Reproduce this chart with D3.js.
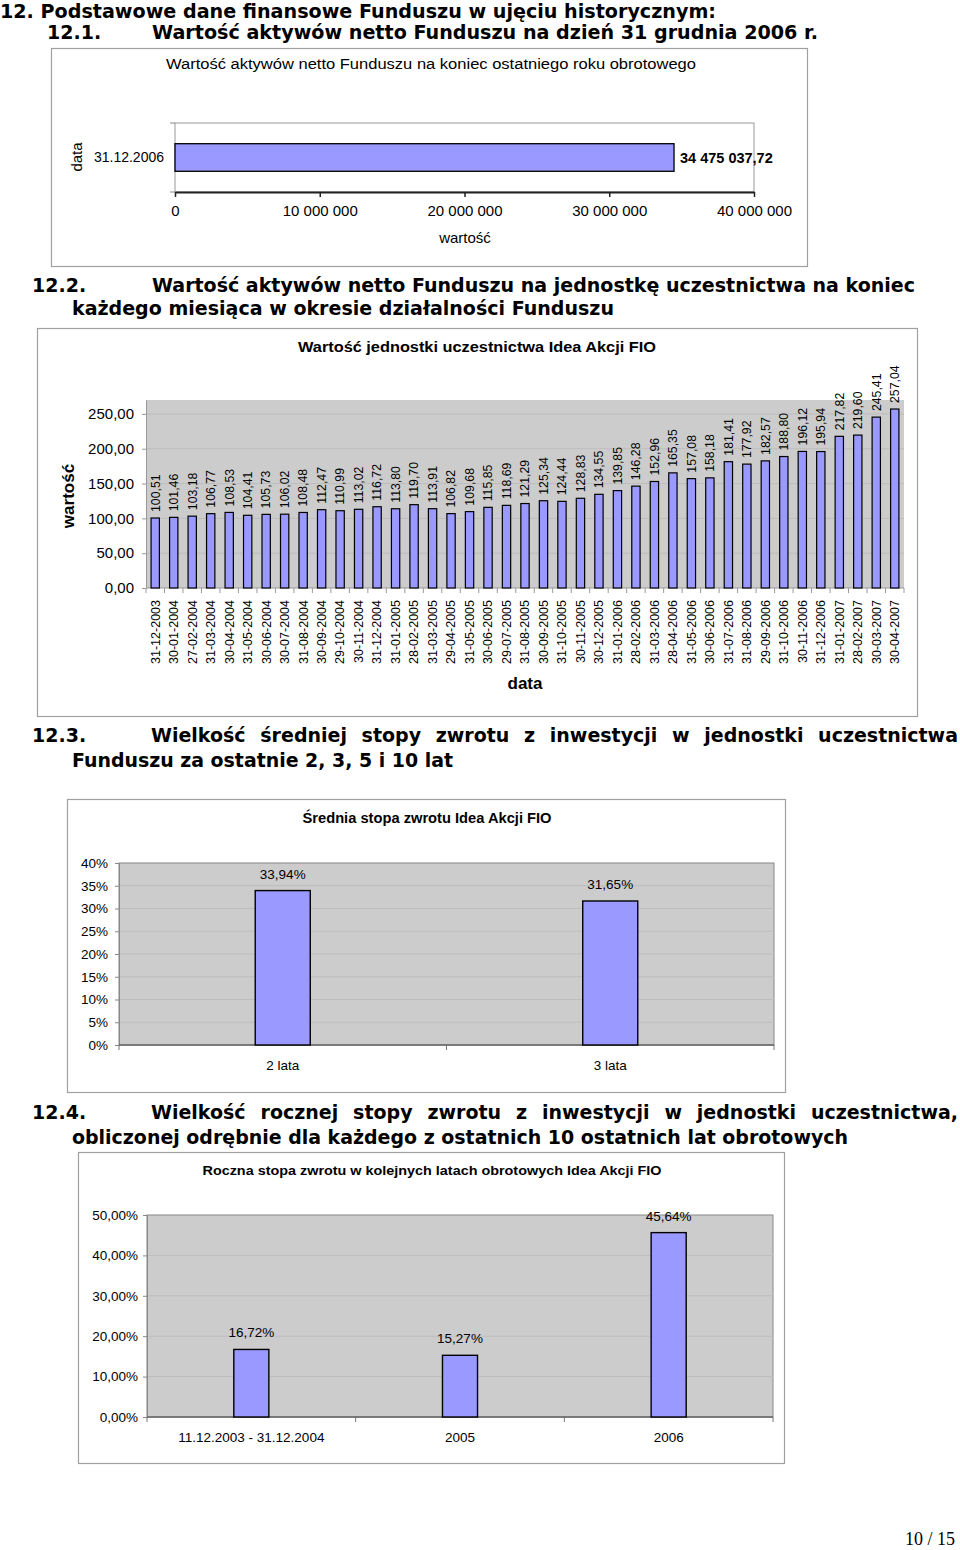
<!DOCTYPE html>
<html>
<head>
<meta charset="utf-8">
<script src="https://cdn.jsdelivr.net/npm/d3@7"></script>
<style>
  body { margin: 0; background: #fff; }
  svg { display: block; }
  .h { font-family: "DejaVu Sans", Verdana, sans-serif; font-weight: bold; font-size: 19px; fill: #000; }
  .c { font-family: "Liberation Sans", Arial, sans-serif; fill: #000; }
</style>
</head>
<body>
<svg id="page" width="960" height="1550"></svg>
<script>
// ---------- DATA ----------
const navCategories = ["31.12.2006"];
const navValues = [34475037.72];
const navTicks = [0, 10000000, 20000000, 30000000, 40000000];

const unitDates = ["31-12-2003","30-01-2004","27-02-2004","31-03-2004","30-04-2004","31-05-2004","30-06-2004","30-07-2004","31-08-2004","30-09-2004","29-10-2004","30-11-2004","31-12-2004","31-01-2005","28-02-2005","31-03-2005","29-04-2005","31-05-2005","30-06-2005","29-07-2005","31-08-2005","30-09-2005","31-10-2005","30-11-2005","30-12-2005","31-01-2006","28-02-2006","31-03-2006","28-04-2006","31-05-2006","30-06-2006","31-07-2006","31-08-2006","29-09-2006","31-10-2006","30-11-2006","31-12-2006","31-01-2007","28-02-2007","30-03-2007","30-04-2007"];
const unitValues = [100.51,101.46,103.18,106.77,108.53,104.41,105.73,106.02,108.48,112.47,110.99,113.02,116.72,113.80,119.70,113.91,106.82,109.68,115.85,118.69,121.29,125.34,124.44,128.83,134.55,139.85,146.28,152.96,165.35,157.08,158.18,181.41,177.92,182.57,188.80,196.12,195.94,217.82,219.60,245.41,257.04];
const unitTicks = [0, 50, 100, 150, 200, 250];

const avgCategories = ["2 lata", "3 lata"];
const avgValues = [0.3394, 0.3165];
const avgTicks = [0, 0.05, 0.10, 0.15, 0.20, 0.25, 0.30, 0.35, 0.40];

const yearCategories = ["11.12.2003 - 31.12.2004", "2005", "2006"];
const yearValues = [0.1672, 0.1527, 0.4564];
const yearTicks = [0, 0.10, 0.20, 0.30, 0.40, 0.50];

// ---------- SETUP ----------
const svg = d3.select("#page");
const loc = d3.formatLocale({decimal: ",", thousands: " ", grouping: [3], currency: ["", ""], percent: "%"});
const fmtSpace = loc.format(",.0f");
const fmtSpace2 = loc.format(",.2f");
const fmt2 = loc.format(".2f");
const fmtPct0 = loc.format(".0%");
const fmtPct2 = loc.format(".2%");
const FILL = "#9999ff";

// right: target right edge; justify: spread words (word-spacing) instead of scaling glyphs
function heading(text, x, y, right, justify) {
  const t = svg.append("text").attr("class", "h").attr("x", x).attr("y", y).text(text);
  if (right) {
    const w = t.node().getComputedTextLength();
    const n = (text.match(/ /g) || []).length;
    if (justify && n > 0) {
      t.style("word-spacing", ((right - x - w) / n) + "px");
    } else {
      t.attr("textLength", right - x).attr("lengthAdjust", "spacingAndGlyphs");
    }
  }
  return t;
}
function ctext(g, text, x, y, size, opts) {
  opts = opts || {};
  const t = g.append("text").attr("class", "c").attr("x", x).attr("y", y)
    .attr("font-size", size).attr("text-anchor", opts.anchor || "middle")
    .attr("font-weight", opts.bold ? "bold" : "normal").text(text);
  if (opts.len) t.attr("textLength", opts.len).attr("lengthAdjust", "spacingAndGlyphs");
  return t;
}
function frame(x0, y0, x1, y1) {
  svg.append("rect").attr("x", x0 + 0.5).attr("y", y0 + 0.5).attr("width", x1 - x0).attr("height", y1 - y0)
    .attr("fill", "#fff").attr("stroke", "#a0a0a0").attr("stroke-width", 1.2);
}
function styleAxis(g, color, size) {
  g.selectAll("text").attr("class", "c").attr("font-size", size).attr("fill", "#000")
    .attr("font-family", "Liberation Sans, Arial, sans-serif");
  g.selectAll("line").attr("stroke", color);
  g.selectAll("path").attr("stroke", color);
}

// ---------- HEADINGS ----------
heading("12. Podstawowe dane finansowe Funduszu w ujęciu historycznym:", 0, 18, 716);
heading("12.1.", 47, 39);
heading("Wartość aktywów netto Funduszu na dzień 31 grudnia 2006 r.", 152, 39, 818);
heading("12.2.", 32, 292);
heading("Wartość aktywów netto Funduszu na jednostkę uczestnictwa na koniec", 152, 292, 915);
heading("każdego miesiąca w okresie działalności Funduszu", 72, 315, 614);
heading("12.3.", 32, 742);
heading("Wielkość średniej stopy zwrotu z inwestycji w jednostki uczestnictwa", 151, 742, 958, true);
heading("Funduszu za ostatnie 2, 3, 5 i 10 lat", 72, 767, 453);
heading("12.4.", 32, 1119);
heading("Wielkość rocznej stopy zwrotu z inwestycji w jednostki uczestnictwa,", 151, 1119, 958, true);
heading("obliczonej odrębnie dla każdego z ostatnich 10 ostatnich lat obrotowych", 72, 1144, 848);

// ---------- CHART 1 ----------
(function () {
  frame(51, 48, 807, 266);
  const g = svg.append("g");
  ctext(g, "Wartość aktywów netto Funduszu na koniec ostatniego roku obrotowego", 431, 69, 14, {len: 530});
  const x = d3.scaleLinear().domain([0, 40000000]).range([175, 754]);
  const y = d3.scaleBand().domain(navCategories).range([123, 192]).paddingInner(0.6).paddingOuter(0.3);
  g.append("rect").attr("x", x.range()[0]).attr("y", 123).attr("width", x.range()[1] - x.range()[0])
    .attr("height", 192 - 123).attr("fill", "#fff").attr("stroke", "#999").attr("stroke-width", 1);
  g.selectAll("line.lt").data(y.range()).join("line").attr("class", "lt")
    .attr("x1", x.range()[0] - 5).attr("x2", x.range()[0]).attr("y1", d => d).attr("y2", d => d)
    .attr("stroke", "#888");
  g.selectAll("rect.bar").data(navValues).join("rect").attr("class", "bar")
    .attr("x", x(0)).attr("y", (d, i) => y(navCategories[i]))
    .attr("width", d => x(d) - x(0)).attr("height", y.bandwidth())
    .attr("fill", FILL).attr("stroke", "#000").attr("stroke-width", 1.3);
  g.selectAll("text.val").data(navValues).join("text").attr("class", "c val")
    .attr("x", d => x(d) + 6).attr("y", (d, i) => y(navCategories[i]) + y.bandwidth() / 2)
    .attr("dy", "0.35em").attr("font-size", 14.5).attr("font-weight", "bold").text(d => fmtSpace2(d));
  const ay = g.append("g").attr("transform", `translate(${x.range()[0]},0)`)
    .call(d3.axisLeft(y).tickSize(0).tickPadding(11));
  ay.select("path").remove();
  styleAxis(ay, "#888", 14);
  const ax = g.append("g").attr("transform", "translate(0,192)")
    .call(d3.axisBottom(x).tickValues(navTicks).tickFormat(fmtSpace).tickSize(5).tickPadding(8).tickSizeOuter(0));
  styleAxis(ax, "#222", 15);
  ax.select("path").attr("stroke-width", 2);
  ax.selectAll("line").attr("stroke-width", 1.5);
  ctext(g, "wartość", 465, 243, 15);
  ctext(g, "data", 0, 0, 15).attr("transform", "translate(82,157) rotate(-90)");
})();

// ---------- CHART 2 ----------
(function () {
  frame(37, 328, 917, 716);
  const g = svg.append("g");
  ctext(g, "Wartość jednostki uczestnictwa Idea Akcji FIO", 477, 352, 14.5, {bold: true, len: 358});
  const x = d3.scaleBand().domain(unitDates).range([146, 904]).paddingInner(0.55).paddingOuter(0.275);
  const y = d3.scaleLinear().domain([0, 270]).range([588, 400]);
  g.append("rect").attr("x", 146).attr("y", y.range()[1]).attr("width", 904 - 146)
    .attr("height", y.range()[0] - y.range()[1]).attr("fill", "#cccccc");
  g.selectAll("line.grid").data(unitTicks.slice(1)).join("line").attr("class", "grid")
    .attr("x1", 146).attr("x2", 904).attr("y1", d => y(d)).attr("y2", d => y(d))
    .attr("stroke", "#bdbdbd").attr("stroke-width", 1);
  const ay = g.append("g").attr("transform", "translate(146,0)")
    .call(d3.axisLeft(y).tickValues(unitTicks).tickFormat(fmt2).tickSize(4).tickPadding(8).tickSizeOuter(0));
  styleAxis(ay, "#999", 15);
  const edges = unitDates.map((d, i) => x.range()[0] + i * x.step()).concat([x.range()[1]]);
  g.selectAll("line.ct").data(edges).join("line").attr("class", "ct")
    .attr("x1", d => d).attr("x2", d => d).attr("y1", 588).attr("y2", 593).attr("stroke", "#999");
  g.append("line").attr("x1", 146).attr("x2", 904).attr("y1", 588).attr("y2", 588).attr("stroke", "#999");
  g.selectAll("rect.bar").data(unitValues).join("rect").attr("class", "bar")
    .attr("x", (d, i) => x(unitDates[i])).attr("y", d => y(d))
    .attr("width", x.bandwidth()).attr("height", d => y(0) - y(d))
    .attr("fill", FILL).attr("stroke", "#000").attr("stroke-width", 1.2);
  g.selectAll("text.val").data(unitValues).join("text").attr("class", "c val")
    .attr("font-size", 12.3).attr("text-anchor", "start").attr("dy", "0.35em")
    .attr("transform", (d, i) => `translate(${x(unitDates[i]) + x.bandwidth() / 2},${y(d) - 6}) rotate(-90)`)
    .text(d => fmt2(d));
  g.selectAll("text.cat").data(unitDates).join("text").attr("class", "c cat")
    .attr("font-size", 12.5).attr("text-anchor", "end").attr("dy", "0.35em")
    .attr("transform", d => `translate(${x(d) + x.bandwidth() / 2},600) rotate(-90)`)
    .text(d => d);
  ctext(g, "wartość", 0, 0, 17, {bold: true}).attr("transform", "translate(74,496) rotate(-90)");
  ctext(g, "data", 525, 689, 17, {bold: true});
})();

// ---------- CHART 3 ----------
(function () {
  frame(67, 799, 785, 1092);
  const g = svg.append("g");
  ctext(g, "Średnia stopa zwrotu Idea Akcji FIO", 427, 823, 14, {bold: true, len: 249});
  const x = d3.scaleBand().domain(avgCategories).range([119, 774]).paddingInner(0.832).paddingOuter(0.416);
  const y = d3.scaleLinear().domain([0, 0.4]).range([1045, 863]);
  g.append("rect").attr("x", 119).attr("y", 863).attr("width", 774 - 119).attr("height", 1045 - 863)
    .attr("fill", "#cccccc").attr("stroke", "#888").attr("stroke-width", 1);
  g.selectAll("line.grid").data(avgTicks.slice(1, -1)).join("line").attr("class", "grid")
    .attr("x1", 119).attr("x2", 774).attr("y1", d => y(d)).attr("y2", d => y(d))
    .attr("stroke", "#bdbdbd");
  const ay = g.append("g").attr("transform", "translate(119,0)")
    .call(d3.axisLeft(y).tickValues(avgTicks).tickFormat(fmtPct0).tickSize(4).tickPadding(7).tickSizeOuter(0));
  styleAxis(ay, "#888", 13.5);
  const edges = avgCategories.map((d, i) => x.range()[0] + i * x.step()).concat([x.range()[1]]);
  g.selectAll("line.ct").data(edges).join("line").attr("class", "ct")
    .attr("x1", d => d).attr("x2", d => d).attr("y1", 1045).attr("y2", 1050).attr("stroke", "#777");
  g.append("line").attr("x1", 119).attr("x2", 774).attr("y1", 1045).attr("y2", 1045).attr("stroke", "#666").attr("stroke-width", 1.5);
  g.selectAll("rect.bar").data(avgValues).join("rect").attr("class", "bar")
    .attr("x", (d, i) => x(avgCategories[i])).attr("y", d => y(d))
    .attr("width", x.bandwidth()).attr("height", d => y(0) - y(d))
    .attr("fill", FILL).attr("stroke", "#000").attr("stroke-width", 1.4);
  g.selectAll("text.val").data(avgValues).join("text").attr("class", "c val")
    .attr("font-size", 13.5).attr("text-anchor", "middle")
    .attr("x", (d, i) => x(avgCategories[i]) + x.bandwidth() / 2).attr("y", d => y(d) - 12)
    .text(d => fmtPct2(d));
  const ax = g.append("g").attr("transform", "translate(0,1045)")
    .call(d3.axisBottom(x).tickSize(0).tickPadding(15));
  ax.select("path").remove();
  styleAxis(ax, "#666", 13.5);
})();

// ---------- CHART 4 ----------
(function () {
  frame(78, 1152, 784, 1463);
  const g = svg.append("g");
  ctext(g, "Roczna stopa zwrotu w kolejnych latach obrotowych Idea Akcji FIO", 432, 1175, 13.5, {bold: true, len: 459});
  const x = d3.scaleBand().domain(yearCategories).range([147, 773]).paddingInner(0.832).paddingOuter(0.416);
  const y = d3.scaleLinear().domain([0, 0.5]).range([1417, 1215]);
  g.append("rect").attr("x", 147).attr("y", 1215).attr("width", 773 - 147).attr("height", 1417 - 1215)
    .attr("fill", "#cccccc").attr("stroke", "#888").attr("stroke-width", 1);
  g.selectAll("line.grid").data(yearTicks.slice(1, -1)).join("line").attr("class", "grid")
    .attr("x1", 147).attr("x2", 773).attr("y1", d => y(d)).attr("y2", d => y(d))
    .attr("stroke", "#bdbdbd");
  const ay = g.append("g").attr("transform", "translate(147,0)")
    .call(d3.axisLeft(y).tickValues(yearTicks).tickFormat(fmtPct2).tickSize(4).tickPadding(5).tickSizeOuter(0));
  styleAxis(ay, "#888", 13.5);
  const edges = yearCategories.map((d, i) => x.range()[0] + i * x.step()).concat([x.range()[1]]);
  g.selectAll("line.ct").data(edges).join("line").attr("class", "ct")
    .attr("x1", d => d).attr("x2", d => d).attr("y1", 1417).attr("y2", 1422).attr("stroke", "#777");
  g.append("line").attr("x1", 147).attr("x2", 773).attr("y1", 1417).attr("y2", 1417).attr("stroke", "#666").attr("stroke-width", 1.5);
  g.selectAll("rect.bar").data(yearValues).join("rect").attr("class", "bar")
    .attr("x", (d, i) => x(yearCategories[i])).attr("y", d => y(d))
    .attr("width", x.bandwidth()).attr("height", d => y(0) - y(d))
    .attr("fill", FILL).attr("stroke", "#000").attr("stroke-width", 1.4);
  g.selectAll("text.val").data(yearValues).join("text").attr("class", "c val")
    .attr("font-size", 13.5).attr("text-anchor", "middle")
    .attr("x", (d, i) => x(yearCategories[i]) + x.bandwidth() / 2).attr("y", d => y(d) - 12)
    .text(d => fmtPct2(d));
  const ax = g.append("g").attr("transform", "translate(0,1417)")
    .call(d3.axisBottom(x).tickSize(0).tickPadding(15));
  ax.select("path").remove();
  styleAxis(ax, "#666", 13.5);
})();

// ---------- PAGE NUMBER ----------
svg.append("text").attr("x", 955).attr("y", 1545).attr("text-anchor", "end")
  .attr("font-family", "Liberation Serif, Times New Roman, serif").attr("font-size", 18).text("10 / 15");
</script>
</body>
</html>
